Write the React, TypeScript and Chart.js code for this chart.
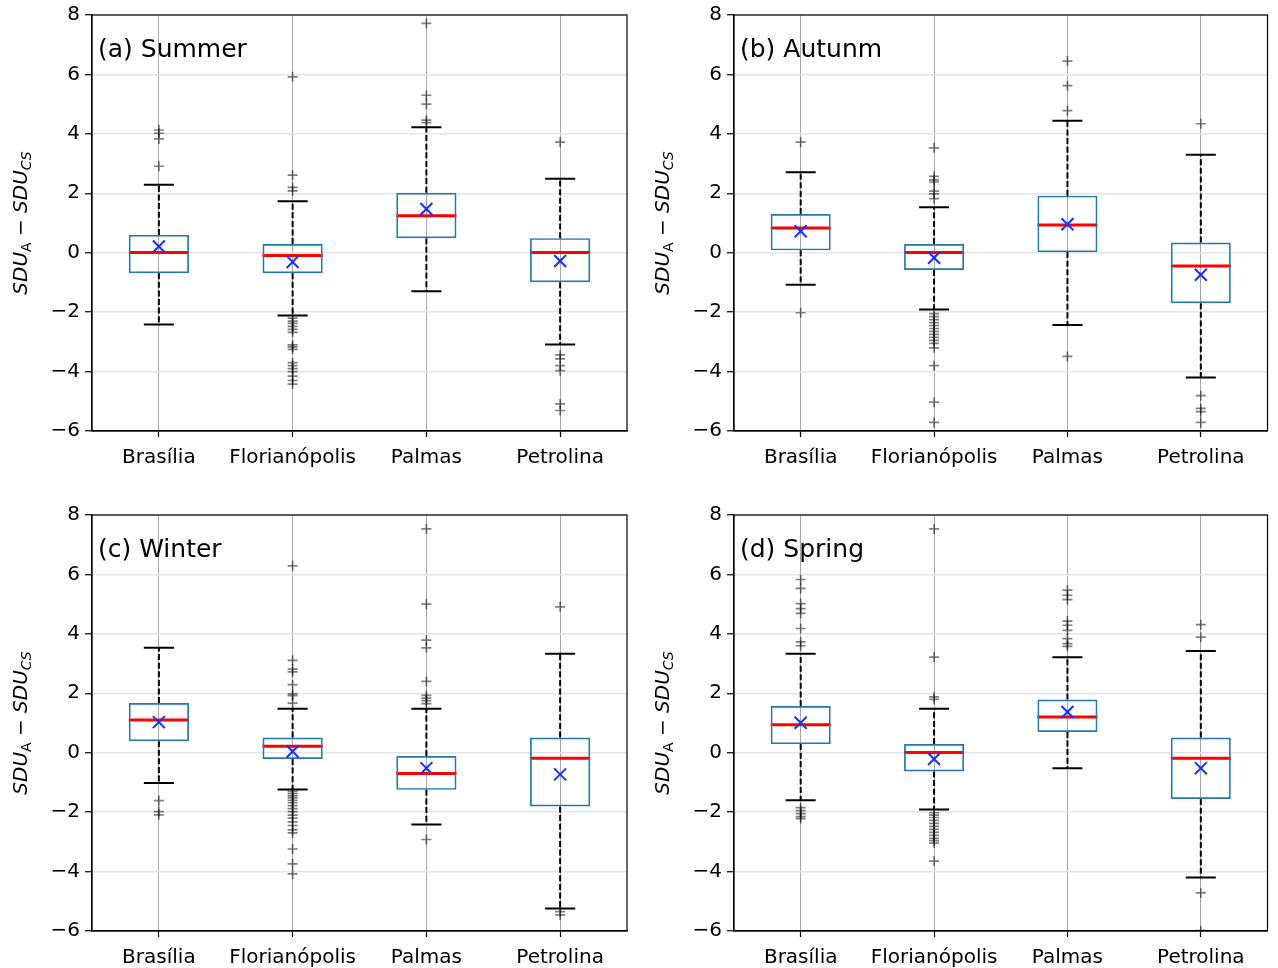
import React, { useEffect, useRef } from 'react';
import { Chart, registerables } from 'chart.js';

Chart.register(...registerables);

// ---------------- DATA ----------------
const stations = ['Brasília', 'Florianópolis', 'Palmas', 'Petrolina'];
const yTickValues = [-6, -4, -2, 0, 2, 4, 6, 8];
const panelTitles = ['(a) Summer', '(b) Autunm', '(c) Winter', '(d) Spring'];

// Summer
const summerQ1 = [-0.69, -0.69, 0.49, -0.99];
const summerMedian = [0.01, -0.09, 1.24, 0.01];
const summerQ3 = [0.6, 0.29, 2.02, 0.49];
const summerWhiskerLow = [-2.42, -2.11, -1.3, -3.09];
const summerWhiskerHigh = [2.29, 1.73, 4.22, 2.49];
const summerMean = [0.21, -0.31, 1.47, -0.28];
const summerOutliers = [
  [4.13, 4.02, 3.83, 2.91],
  [5.92, 2.61, 2.2, 2.08, -2.2, -2.3, -2.38, -2.48, -2.58, -2.68, -3.1, -3.17, -3.25, -3.7, -3.8, -3.9, -4.0, -4.15, -4.3, -4.42],
  [7.72, 5.3, 5.0, 4.46, 4.38],
  [3.72, -3.44, -3.57, -3.8, -3.97, -5.09, -5.31],
];

// Autumn
const autumnQ1 = [0.08, -0.58, 0.02, -1.7];
const autumnMedian = [0.83, 0.01, 0.93, -0.45];
const autumnQ3 = [1.3, 0.29, 1.92, 0.34];
const autumnWhiskerLow = [-1.08, -1.91, -2.43, -4.2];
const autumnWhiskerHigh = [2.71, 1.53, 4.44, 3.3];
const autumnMean = [0.72, -0.17, 0.96, -0.74];
const autumnOutliers = [
  [3.72, -2.02],
  [3.53, 2.57, 2.45, 2.38, 2.07, 1.98, 1.82, -2.05, -2.15, -2.25, -2.35, -2.45, -2.55, -2.65, -2.75, -2.85, -2.95, -3.05, -3.2, -3.8, -5.03, -5.71],
  [6.45, 5.62, 4.78, -3.49],
  [4.34, -4.81, -5.24, -5.35, -5.71],
];

// Winter
const winterQ1 = [0.39, -0.21, -1.25, -1.81];
const winterMedian = [1.1, 0.22, -0.7, -0.19];
const winterQ3 = [1.67, 0.51, -0.11, 0.51];
const winterWhiskerLow = [-1.02, -1.24, -2.42, -5.24];
const winterWhiskerHigh = [3.53, 1.48, 1.48, 3.33];
const winterMean = [1.03, 0.04, -0.52, -0.73];
const winterOutliers = [
  [-1.61, -1.98, -2.09],
  [6.29, 3.11, 2.81, 2.72, 2.29, 1.98, 1.92, 1.67, -1.3, -1.38, -1.45, -1.52, -1.6, -1.68, -1.78, -1.88, -1.98, -2.1, -2.2, -2.33, -2.45, -2.6, -2.7, -3.24, -3.74, -4.08],
  [7.53, 5.0, 3.79, 3.53, 2.4, 1.93, 1.84, 1.75, 1.65, -2.92],
  [4.91, -5.35, -5.46],
];

// Spring
const springQ1 = [0.29, -0.63, 0.7, -1.56];
const springMedian = [0.94, 0.01, 1.2, -0.19];
const springQ3 = [1.57, 0.29, 1.79, 0.51];
const springWhiskerLow = [-1.6, -1.91, -0.52, -4.2];
const springWhiskerHigh = [3.33, 1.48, 3.21, 3.42];
const springMean = [1.01, -0.21, 1.37, -0.52];
const springOutliers = [
  [5.83, 5.53, 5.02, 4.85, 4.69, 4.18, 3.73, 3.6, -1.85, -1.95, -2.05, -2.15, -2.22],
  [7.53, 3.22, 1.88, 1.8, -2.02, -2.1, -2.18, -2.28, -2.38, -2.48, -2.58, -2.68, -2.78, -2.88, -2.96, -3.04, -3.65],
  [5.47, 5.3, 5.15, 4.43, 4.29, 4.12, 3.84, 3.67, 3.58],
  [4.31, 3.89, -4.72, -5.99],
];

const seasonQ1 = [summerQ1, autumnQ1, winterQ1, springQ1];
const seasonMedian = [summerMedian, autumnMedian, winterMedian, springMedian];
const seasonQ3 = [summerQ3, autumnQ3, winterQ3, springQ3];
const seasonLow = [summerWhiskerLow, autumnWhiskerLow, winterWhiskerLow, springWhiskerLow];
const seasonHigh = [summerWhiskerHigh, autumnWhiskerHigh, winterWhiskerHigh, springWhiskerHigh];
const seasonMean = [summerMean, autumnMean, winterMean, springMean];
const seasonOutliers = [summerOutliers, autumnOutliers, winterOutliers, springOutliers];

// ---------------- LAYOUT / STYLE ----------------
const FONT = "'DejaVu Sans', sans-serif";
const BOX_FRACTION = 0.45;
// top panels: Chart.js reserves 17px above the plot for the "8" label, so the canvas is raised 2px
const layouts = [
  { left: 0, top: -2, w: 640, h: 486, yw: 92, xh: 53, padTop: 15, padRight: 13 },
  { left: 640, top: -2, w: 638, h: 486, yw: 94, xh: 53, padTop: 15, padRight: 9 },
  { left: 0, top: 484, w: 640, h: 484, yw: 92, xh: 37, padTop: 31, padRight: 13 },
  { left: 640, top: 484, w: 638, h: 484, yw: 94, xh: 37, padTop: 31, padRight: 9 },
];

const fmtTick = (v: number) => (v < 0 ? '\u2212' + Math.abs(v) : String(v));

function makePlugin(k: number) {
  return {
    id: 'boxExtras' + k,
    beforeDatasetsDraw(chart: any) {
      const ctx = chart.ctx;
      const xs = chart.scales.x;
      const ys = chart.scales.y;
      const ca = chart.chartArea;
      const step = xs.getPixelForValue(1) - xs.getPixelForValue(0);
      const half = (step * BOX_FRACTION) / 2;
      const capHalf = half / 2;
      ctx.save();
      ctx.beginPath();
      ctx.rect(ca.left, ca.top, ca.right - ca.left, ca.bottom - ca.top);
      ctx.clip();
      for (let i = 0; i < stations.length; i++) {
        const cx = xs.getPixelForValue(i);
        const yq1 = ys.getPixelForValue(seasonQ1[k][i]);
        const yq3 = ys.getPixelForValue(seasonQ3[k][i]);
        const ylo = ys.getPixelForValue(seasonLow[k][i]);
        const yhi = ys.getPixelForValue(seasonHigh[k][i]);
        const ymed = ys.getPixelForValue(seasonMedian[k][i]);
        // whiskers
        ctx.strokeStyle = '#000';
        ctx.lineWidth = 2;
        ctx.setLineDash([6, 2.6]);
        ctx.beginPath();
        ctx.moveTo(cx, yq3);
        ctx.lineTo(cx, yhi);
        ctx.moveTo(cx, yq1);
        ctx.lineTo(cx, ylo);
        ctx.stroke();
        // caps
        ctx.setLineDash([]);
        ctx.beginPath();
        ctx.moveTo(cx - capHalf, yhi);
        ctx.lineTo(cx + capHalf, yhi);
        ctx.moveTo(cx - capHalf, ylo);
        ctx.lineTo(cx + capHalf, ylo);
        ctx.stroke();
        // median
        ctx.strokeStyle = '#ff0000';
        ctx.lineWidth = 3;
        ctx.beginPath();
        ctx.moveTo(cx - half, ymed);
        ctx.lineTo(cx + half, ymed);
        ctx.stroke();
      }
      ctx.restore();
    },
    afterDraw(chart: any) {
      const ctx = chart.ctx;
      const ca = chart.chartArea;
      ctx.save();
      // frame
      ctx.strokeStyle = '#000';
      ctx.lineWidth = 1.2;
      ctx.strokeRect(ca.left, ca.top, ca.right - ca.left, ca.bottom - ca.top);
      // panel title
      ctx.fillStyle = '#000';
      ctx.font = `25px ${FONT}`;
      ctx.textBaseline = 'alphabetic';
      ctx.textAlign = 'left';
      ctx.fillText(panelTitles[k], ca.left + 6, ca.top + 42);
      // y-axis label
      const parts = [
        { t: 'SDU', f: `italic 20px ${FONT}`, dy: 0 },
        { t: 'A', f: `14px ${FONT}`, dy: 4 },
        { t: ' \u2212 ', f: `20px ${FONT}`, dy: 0 },
        { t: 'SDU', f: `italic 20px ${FONT}`, dy: 0 },
        { t: 'CS', f: `italic 14px ${FONT}`, dy: 4 },
      ];
      let total = 0;
      const widths = parts.map((p) => {
        ctx.font = p.f;
        const w = ctx.measureText(p.t).width;
        total += w;
        return w;
      });
      ctx.translate(ca.left - 65, (ca.top + ca.bottom) / 2);
      ctx.rotate(-Math.PI / 2);
      let x = -total / 2;
      parts.forEach((p, j) => {
        ctx.font = p.f;
        ctx.fillText(p.t, x, p.dy);
        x += widths[j];
      });
      ctx.restore();
    },
  };
}

function Panel({ k }: { k: number }) {
  const ref = useRef<HTMLCanvasElement | null>(null);
  const L = layouts[k];
  useEffect(() => {
    if (!ref.current) return;
    const boxes = stations.map((_, i) => [seasonQ1[k][i], seasonQ3[k][i]]);
    const fliers: { x: string; y: number }[] = [];
    seasonOutliers[k].forEach((arr, i) => arr.forEach((v) => fliers.push({ x: stations[i], y: v })));
    const means = stations.map((s, i) => ({ x: s, y: seasonMean[k][i] }));
    const chart = new Chart(ref.current, {
      type: 'bar',
      data: {
        labels: stations,
        datasets: [
          {
            type: 'bar',
            data: boxes as any,
            backgroundColor: 'rgba(0,0,0,0)',
            borderColor: '#1f77b4',
            borderWidth: 1.7,
            borderSkipped: false,
            barPercentage: BOX_FRACTION,
            categoryPercentage: 1,
            order: 2,
          } as any,
          {
            type: 'line',
            data: fliers as any,
            showLine: false,
            pointStyle: 'cross',
            pointRadius: 5,
            pointHoverRadius: 5,
            pointBorderWidth: 1.7,
            pointBorderColor: 'rgba(0,0,0,0.5)',
            pointBackgroundColor: 'rgba(0,0,0,0)',
            order: 1,
          } as any,
          {
            type: 'line',
            data: means as any,
            showLine: false,
            pointStyle: 'crossRot',
            pointRadius: 8.5,
            pointHoverRadius: 8.5,
            pointBorderWidth: 2,
            pointBorderColor: '#1432ff',
            pointBackgroundColor: 'rgba(0,0,0,0)',
            order: 0,
          } as any,
        ],
      },
      options: {
        responsive: false,
        animation: false,
        devicePixelRatio: 1,
        events: [],
        layout: { padding: { top: L.padTop, right: L.padRight, bottom: 0, left: 0 } },
        plugins: {
          legend: { display: false },
          tooltip: { enabled: false },
          title: { display: false },
        },
        scales: {
          x: {
            type: 'category',
            offset: true,
            grid: {
              offset: false,
              color: 'rgba(0,0,0,0.35)',
              lineWidth: 1,
              tickColor: '#000',
              tickLength: 6,
              tickWidth: 1.2,
            },
            border: { color: '#000', width: 1.2 },
            ticks: {
              color: '#000',
              font: { family: FONT, size: 20 },
              padding: 9,
              maxRotation: 0,
              autoSkip: false,
            },
            afterFit: (s: any) => {
              s.height = L.xh;
            },
          },
          y: {
            type: 'linear',
            min: -6,
            max: 8,
            afterBuildTicks: (s: any) => {
              s.ticks = yTickValues.map((v) => ({ value: v }));
            },
            ticks: {
              color: '#000',
              font: { family: FONT, size: 20 },
              padding: 5,
              callback: (v: any) => fmtTick(Number(v)),
            },
            grid: {
              color: '#e4e4e4',
              lineWidth: 1.5,
              tickColor: '#000',
              tickLength: 7,
              tickWidth: 1.2,
            },
            border: { color: '#000', width: 1.2 },
            afterFit: (s: any) => {
              s.width = L.yw;
            },
          },
        },
      } as any,
      plugins: [makePlugin(k)],
    });
    return () => chart.destroy();
  }, []);
  return (
    <canvas
      ref={ref}
      width={L.w}
      height={L.h}
      style={{ position: 'absolute', left: L.left, top: L.top, width: L.w, height: L.h }}
    />
  );
}

export default function App() {
  return (
    <div style={{ position: 'absolute', left: 0, top: 0, width: 1278, height: 968, background: '#fff', overflow: 'hidden' }}>
      {[0, 1, 2, 3].map((k) => (
        <Panel key={k} k={k} />
      ))}
    </div>
  );
}
